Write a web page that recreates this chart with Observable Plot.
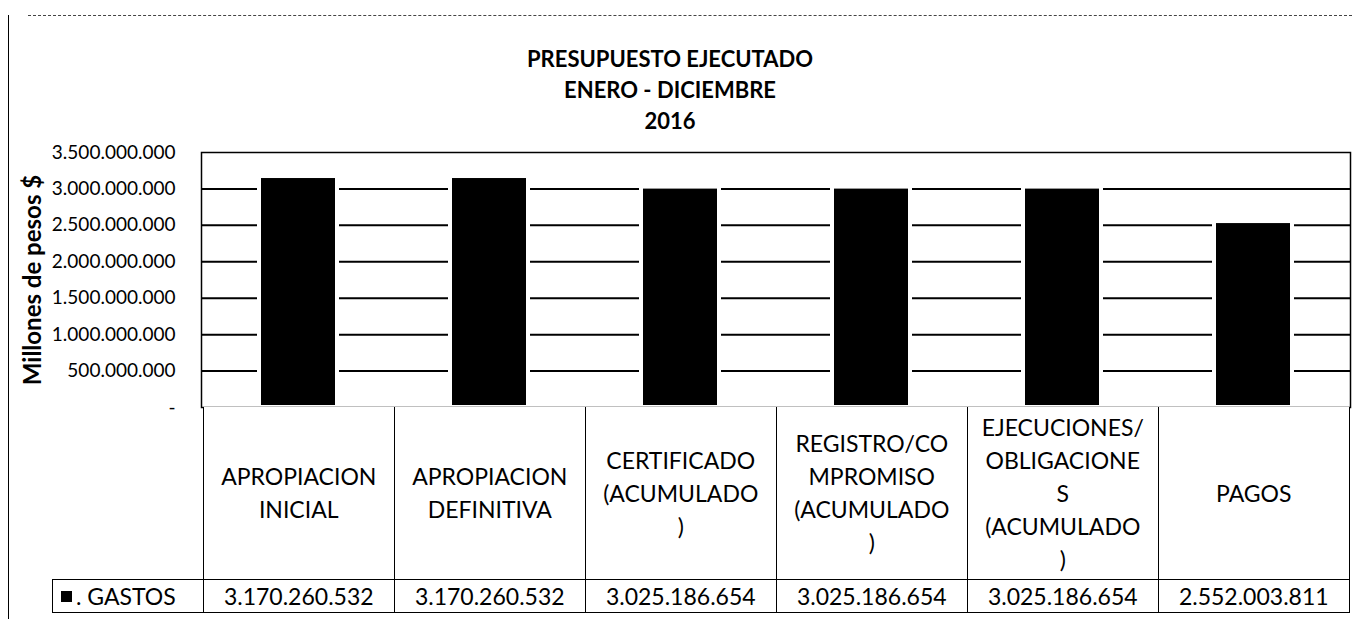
<!DOCTYPE html>
<html>
<head>
<meta charset="utf-8">
<script src="https://cdn.jsdelivr.net/npm/d3@7"></script>
<script src="https://cdn.jsdelivr.net/npm/@observablehq/plot@0.6"></script>
<style>
  body { margin: 0; background: #fff; font-family: Lato, "Open Sans", sans-serif; color: #000; }
  #page { position: relative; width: 1352px; height: 619px; overflow: hidden; }
  #leftline { position: absolute; left: 8px; top: 15px; width: 0; height: 610px; border-left: 1.5px solid #000; }
  #topline { position: absolute; left: 28px; top: 15px; width: 1324px; height: 0; border-top: 1.5px dashed #444; }
  #title { position: absolute; left: 420px; width: 500px; top: 43px; text-align: center; font: bold 22px Lato, sans-serif; line-height: 31px; }
  #chart { position: absolute; left: 0; top: 140px; }
  #chart svg g[aria-label="y-axis label"] text { font-weight: bold; font-size: 24px; }
  .cell { position: absolute; box-sizing: border-box; border: 1.5px solid #000; display: flex; align-items: center; justify-content: center; text-align: center; font-size: 23px; line-height: 33px; background: #fff; }
  .sq { display: inline-block; width: 11px; height: 11px; background: #000; margin-right: 4px; }
</style>
</head>
<body>
<div id="page">
  <div id="topline"></div>
  <div id="leftline"></div>
  <div id="title"></div>
  <div id="chart"></div>
  <div id="table"></div>
</div>
<script>
const titleLines = ["PRESUPUESTO EJECUTADO", "ENERO - DICIEMBRE", "2016"];
const categories = ["APROPIACION INICIAL", "APROPIACION DEFINITIVA", "CERTIFICADO (ACUMULADO)", "REGISTRO/COMPROMISO (ACUMULADO)", "EJECUCIONES/OBLIGACIONES (ACUMULADO)", "PAGOS"];
const headerLines = [
  ["APROPIACION", "INICIAL"],
  ["APROPIACION", "DEFINITIVA"],
  ["CERTIFICADO", "(ACUMULADO", ")"],
  ["REGISTRO/CO", "MPROMISO", "(ACUMULADO", ")"],
  ["EJECUCIONES/", "OBLIGACIONE", "S", "(ACUMULADO", ")"],
  ["PAGOS"]
];
const gastos = [3170260532, 3170260532, 3025186654, 3025186654, 3025186654, 2552003811];
const seriesName = "GASTOS";
const yTicks = [0, 500000000, 1000000000, 1500000000, 2000000000, 2500000000, 3000000000, 3500000000];
const yLabel = "Millones de pesos $";

const fmt = v => d3.format(",")(v).replace(/,/g, ".");
const data = categories.map((c, i) => ({category: c, value: gastos[i]}));

document.getElementById("title").innerHTML = titleLines.join("<br>");

const plot = Plot.plot({
  width: 1352,
  height: 279,
  marginLeft: 201,
  marginRight: 2,
  marginTop: 12,
  marginBottom: 12,
  style: {fontFamily: "Lato, sans-serif", fontSize: "19px", color: "#000", background: "transparent"},
  x: {domain: categories, paddingInner: 0.59, paddingOuter: 0.295, axis: null},
  y: {domain: [0, 3500000000], ticks: yTicks},
  marks: [
    Plot.ruleY(yTicks.filter(t => t > 0 && t < 3500000000), {stroke: "#000", strokeWidth: 2}),
    Plot.barY(data, {x: "category", y: "value", fill: "#000", stroke: "#fff", strokeWidth: 4}),
    Plot.frame({stroke: "#000", strokeWidth: 1.5}),
    Plot.axisY({
      ticks: yTicks,
      tickSize: 0,
      tickPadding: 26,
      tickFormat: d => d === 0 ? "-" : fmt(d),
      fontSize: 19,
      label: yLabel,
      labelAnchor: "center",
      labelArrow: "none",
      labelOffset: 178
    })
  ]
});
document.getElementById("chart").appendChild(plot);

// table aligned to the x band scale
const xs = plot.scale("x");
const step = xs.step;
const gap = (step - xs.bandwidth) / 2;
const top0 = 140 + 267;   // y of zero baseline in page coordinates
const headerH = 172;
const valueH = 34;
const table = document.getElementById("table");
categories.forEach((c, i) => {
  const left = xs.apply(c) - gap;
  const h = document.createElement("div");
  h.className = "cell";
  h.style.left = left + "px";
  h.style.top = top0 + "px";
  h.style.width = (step + 1.5) + "px";
  h.style.height = (headerH + 1.5) + "px";
  h.style.borderTop = "none";
  h.innerHTML = headerLines[i].join("<br>");
  table.appendChild(h);
  const v = document.createElement("div");
  v.className = "cell";
  v.style.left = left + "px";
  v.style.top = (top0 + headerH) + "px";
  v.style.width = (step + 1.5) + "px";
  v.style.height = valueH + "px";
  v.textContent = fmt(gastos[i]);
  table.appendChild(v);
});
const lg = document.createElement("div");
lg.className = "cell";
const firstLeft = xs.apply(categories[0]) - gap;
lg.style.left = "52px";
lg.style.top = (top0 + headerH) + "px";
lg.style.width = (firstLeft - 52 + 1.5) + "px";
lg.style.height = valueH + "px";
lg.style.justifyContent = "flex-start";
lg.style.paddingLeft = "8px";
lg.innerHTML = '<span class="sq"></span>. ' + seriesName;
table.appendChild(lg);
</script>
</body>
</html>
